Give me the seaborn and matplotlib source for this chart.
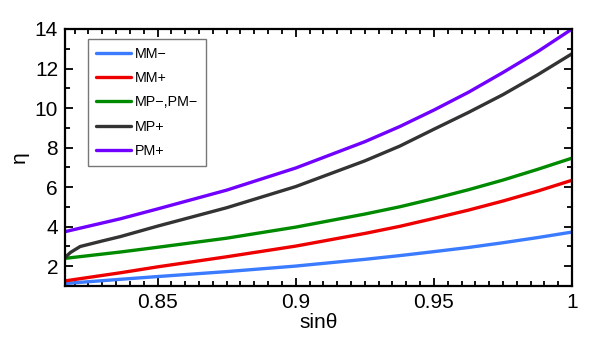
import numpy as np
import matplotlib
matplotlib.use("Agg")
import matplotlib.pyplot as plt
from matplotlib.ticker import MultipleLocator, FormatStrFormatter
import seaborn as sns

# valores
sin_theta = [0.8165, 0.8365, 0.85, 0.875, 0.9, 0.925, 0.9377, 0.95, 0.9625, 0.975, 0.9875, 1.0]
mm_minus = [1.13, 1.34, 1.48, 1.73, 2.01, 2.35, 2.54, 2.74, 2.95, 3.19, 3.45, 3.73]
mm_plus = [1.26, 1.67, 1.97, 2.48, 3.02, 3.66, 4.02, 4.42, 4.84, 5.30, 5.80, 6.35]
mp_pm_minus = [2.40, 2.72, 2.96, 3.42, 3.98, 4.64, 5.01, 5.42, 5.87, 6.36, 6.90, 7.47]
pm_plus = [3.75, 4.40, 4.90, 5.85, 6.97, 8.30, 9.07, 9.90, 10.80, 11.80, 12.85, 14.0]

# MP+ sube rapido al principio, lleva mas puntos
sin_theta_mp = [0.8165, 0.8185, 0.822, 0.83, 0.8365, 0.85, 0.875, 0.9, 0.925, 0.9377, 0.95,
                0.9625, 0.975, 0.9875, 1.0]
mp_plus = [2.44, 2.70, 3.00, 3.28, 3.50, 4.03, 4.96, 6.03, 7.33, 8.08, 8.93, 9.78, 10.68, 11.68, 12.75]

labels = ["MM\u2212", "MM+", "MP\u2212,PM\u2212", "MP+", "PM+"]
colors = ["#3a7bff", "#ee0000", "#008a00", "#333333", "#7000ff"]

sns.set_style("ticks")
plt.rcParams['font.family'] = ['Liberation Sans', 'DejaVu Sans']

fig = plt.figure(figsize=(5.99, 3.58), dpi=100)
ax = fig.add_axes([0.1085, 0.201, 0.8465, 0.718])

series = [(sin_theta, mm_minus), (sin_theta, mm_plus), (sin_theta, mp_pm_minus),
          (sin_theta_mp, mp_plus), (sin_theta, pm_plus)]
for (xs, ys), lab, col in zip(series, labels, colors):
    sns.lineplot(x=xs, y=ys, color=col, label=lab, linewidth=2.4, ax=ax, sort=False)

ax.set_xlim(0.8165, 1.0)
ax.set_ylim(1.0, 14.0)
ax.xaxis.set_major_locator(MultipleLocator(0.05))
ax.xaxis.set_minor_locator(MultipleLocator(0.005))
ax.yaxis.set_major_locator(MultipleLocator(2))
ax.yaxis.set_minor_locator(MultipleLocator(1))
ax.xaxis.set_major_formatter(FormatStrFormatter('%g'))
ax.tick_params(which='both', direction='in', top=True, right=True, width=1.3,
               labelsize=15, colors='black', labelcolor='black')
ax.tick_params(which='major', length=6, pad=5)
ax.tick_params(which='minor', length=3.5)
for s in ax.spines.values():
    s.set_linewidth(1.6)
    s.set_color('black')

ax.set_xlabel("sin\u03b8", fontsize=15, labelpad=1, color='black')
ax.set_ylabel("\u03b7", fontsize=15, labelpad=4, color='black')

leg = ax.legend(loc='upper left', bbox_to_anchor=(0.045, 0.961), borderaxespad=0,
                fontsize=10.3, frameon=True, fancybox=False, edgecolor='#555555',
                handlelength=2.45, handletextpad=0.3, labelspacing=0.72, borderpad=0.55,
                labelcolor='black')
leg.get_frame().set_linewidth(1.0)

fig.savefig("out.png", dpi=100)
